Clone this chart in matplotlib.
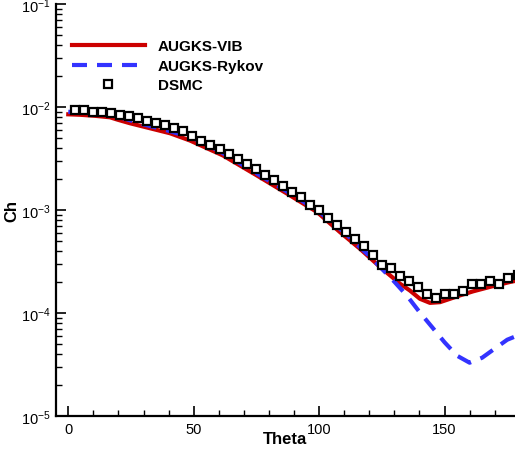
import matplotlib
matplotlib.use("Agg")
import matplotlib.pyplot as plt
from matplotlib.ticker import LogLocator, MultipleLocator

plt.rcParams['font.family'] = ['Liberation Sans', 'DejaVu Sans']

# DSMC samples
theta_dsmc = [2.7, 6.3, 9.9, 13.5, 17.1, 20.7, 24.3, 27.9, 31.5, 35.1,
              38.7, 42.3, 45.9, 49.5, 53.1, 56.7, 60.3, 63.9, 67.5, 71.1,
              74.7, 78.3, 81.9, 85.5, 89.1, 92.7, 96.3, 99.9, 103.5, 107.1,
              110.7, 114.3, 117.9, 121.5, 125.1, 128.7, 132.3, 135.9, 139.5, 143.1,
              146.7, 150.3, 153.9, 157.5, 161.1, 164.7, 168.3, 171.9, 175.5, 179.1]
ch_dsmc = [9.27e-3, 9.27e-3, 9.06e-3, 8.94e-3, 8.74e-3, 8.42e-3, 8.11e-3, 7.82e-3, 7.41e-3, 7.04e-3,
           6.63e-3, 6.25e-3, 5.80e-3, 5.27e-3, 4.74e-3, 4.31e-3, 3.94e-3, 3.47e-3, 3.15e-3, 2.82e-3,
           2.52e-3, 2.20e-3, 1.94e-3, 1.70e-3, 1.50e-3, 1.33e-3, 1.13e-3, 9.93e-4, 8.38e-4, 7.22e-4,
           6.13e-4, 5.20e-4, 4.48e-4, 3.64e-4, 2.95e-4, 2.73e-4, 2.31e-4, 2.04e-4, 1.80e-4, 1.55e-4,
           1.40e-4, 1.52e-4, 1.55e-4, 1.66e-4, 1.90e-4, 1.90e-4, 2.05e-4, 1.93e-4, 2.21e-4, 2.36e-4]

# AUGKS-VIB
theta_vib = [0, 4.7, 10.6, 16.6, 19.8, 24.6, 32.6, 40.6, 48.5, 61.7, 75.2, 88.4,
             99.2, 108.3, 116.3, 124.3, 132.3, 136.2, 140.2, 144.2, 148.2, 152.2,
             156.2, 161.4, 168.1, 176.1, 180]
ch_vib = [8.51e-3, 8.42e-3, 8.23e-3, 7.96e-3, 7.53e-3, 6.97e-3, 6.23e-3, 5.57e-3, 4.74e-3, 3.39e-3,
          2.17e-3, 1.39e-3, 9.58e-4, 6.13e-4, 4.22e-4, 2.81e-4, 1.93e-4, 1.66e-4, 1.38e-4, 1.26e-4,
          1.28e-4, 1.38e-4, 1.49e-4, 1.63e-4, 1.80e-4, 2.01e-4, 2.10e-4]

# AUGKS-Rykov
theta_ryk = [0, 10, 20, 30, 40, 50, 60, 70, 80, 90, 100, 110, 115, 120, 125, 130,
             135, 140, 145, 150, 155, 160, 165, 170, 175, 180]
ch_ryk = [9.0e-3, 8.7e-3, 8.05e-3, 6.8e-3, 5.89e-3, 4.98e-3, 3.77e-3, 2.70e-3, 1.93e-3, 1.38e-3,
          9.65e-4, 6.1e-4, 4.67e-4, 3.61e-4, 2.70e-4, 2.02e-4, 1.48e-4, 1.03e-4, 7.35e-5, 5.23e-5,
          3.87e-5, 3.31e-5, 3.70e-5, 4.53e-5, 5.53e-5, 6.2e-5]

fig = plt.figure(figsize=(5.15, 4.56), dpi=100)
ax = fig.add_axes([0.1087, 0.0849, 0.8913, 0.9041])

ax.plot(theta_vib, ch_vib, color='#cc0000', lw=3, label='AUGKS-VIB', zorder=2)
ax.plot(theta_ryk, ch_ryk, color='#3333ff', lw=3, dashes=(3.6, 2.4), label='AUGKS-Rykov', zorder=3)
ax.plot(theta_dsmc, ch_dsmc, ls='none', marker='s', ms=6, mew=1.6, mfc='white', mec='black',
        label='DSMC', zorder=4)

ax.set_yscale('log')
ax.set_ylim(1e-5, 1e-1)
ax.set_xlim(-4.9, 178.1)

ax.xaxis.set_major_locator(MultipleLocator(50))
ax.xaxis.set_minor_locator(MultipleLocator(10))
ax.yaxis.set_major_locator(LogLocator(base=10, numticks=10))
ax.yaxis.set_minor_locator(LogLocator(base=10, subs=range(2, 10), numticks=20))

for s in ['top', 'right']:
    ax.spines[s].set_visible(False)
for s in ['left', 'bottom']:
    ax.spines[s].set_linewidth(1.6)

ax.tick_params(which='major', direction='in', length=7, width=1.2, labelsize=10.5, pad=4)
ax.tick_params(which='minor', direction='in', length=4.5, width=1.0)

ax.set_xlabel('Theta', fontsize=12, fontweight='bold', labelpad=-3.3)
ax.set_ylabel('Ch', fontsize=12, fontweight='bold', labelpad=1)

leg = ax.legend(loc='upper left', bbox_to_anchor=(0.011, 0.94), frameon=False,
                prop={'weight': 'bold', 'size': 11}, handlelength=4.8, handletextpad=0.85,
                labelspacing=0.36, borderaxespad=0.3)

fig.savefig('out.png', dpi=100)
